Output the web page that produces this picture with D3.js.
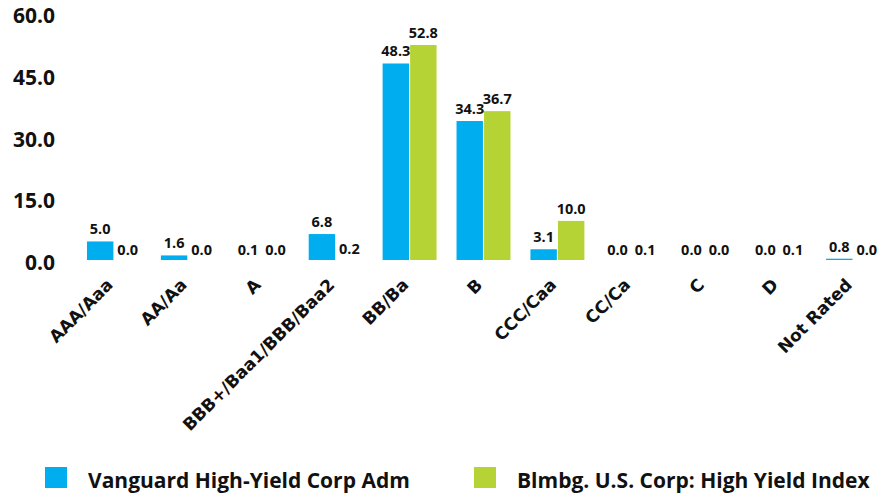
<!DOCTYPE html>
<html>
<head>
<meta charset="utf-8">
<script src="https://cdn.jsdelivr.net/npm/d3@7"></script>
<style>
  html, body { margin: 0; padding: 0; background: #fff; }
  svg { display: block; }
  text { font-family: "Open Sans", "DejaVu Sans", sans-serif; font-weight: 700; fill: #111; }
</style>
</head>
<body>
<svg id="chart" width="879" height="495"></svg>
<script>
const categories = ["AAA/Aaa", "AA/Aa", "A", "BBB+/Baa1/BBB/Baa2", "BB/Ba", "B", "CCC/Caa", "CC/Ca", "C", "D", "Not Rated"];
const seriesNames = ["Vanguard High-Yield Corp Adm", "Blmbg. U.S. Corp: High Yield Index"];
const fundValues  = [5.0, 1.6, 0.1, 6.8, 48.3, 34.3, 3.1, 0.0, 0.0, 0.0, 0.8];
const indexValues = [0.0, 0.0, 0.0, 0.2, 52.8, 36.7, 10.0, 0.1, 0.0, 0.1, 0.0];
const yTicks = [0, 15, 30, 45, 60];
const colors = ["#00AEEF", "#B5D334"];

const svg = d3.select("#chart");

const x0 = d3.scaleBand().domain(categories).range([77, 890]).paddingInner(0.27).paddingOuter(0.135);
const x1 = d3.scaleBand().domain(seriesNames).range([0, x0.bandwidth()]).paddingInner(0.04);
const y = d3.scaleLinear().domain([0, 60]).range([262, 15.4]);

const data = categories.map((c, i) => ({ cat: c, vals: [fundValues[i], indexValues[i]] }));

const groups = svg.append("g").selectAll("g").data(data).join("g")
  .attr("transform", d => `translate(${x0(d.cat)},0)`);

groups.selectAll("rect").data(d => d.vals.map((v, j) => ({ s: seriesNames[j], v, j }))).join("rect")
  .attr("x", d => x1(d.s))
  .attr("width", x1.bandwidth())
  .attr("y", d => y(d.v))
  .attr("height", d => y(0) - y(d.v))
  .attr("fill", d => colors[d.j]);

groups.selectAll("text.val").data(d => d.vals.map((v, j) => ({ s: seriesNames[j], v, j }))).join("text")
  .attr("class", "val")
  .attr("x", d => x1(d.s) + x1.bandwidth() / 2)
  .attr("y", d => y(d.v) - 7)
  .attr("text-anchor", "middle")
  .attr("font-size", 14.5)
  .text(d => d3.format(".1f")(d.v));

// Y axis (labels only)
const yAxis = d3.axisLeft(y).tickValues(yTicks).tickFormat(d3.format(".1f")).tickSize(0).tickPadding(0);
const gy = svg.append("g").attr("transform", "translate(55,0)").call(yAxis);
gy.select(".domain").remove();
gy.selectAll("text").attr("font-size", 21).attr("dy", "0.36em")
  .style("font-family", "'Open Sans', 'DejaVu Sans', sans-serif").style("font-weight", 700).attr("fill", "#111");

// X axis (white baseline band + rotated labels)
const xAxis = d3.axisBottom(x0).tickSize(0).tickPadding(0);
const gx = svg.append("g").attr("transform", "translate(0,262)").call(xAxis);
gx.select(".domain").attr("stroke", "#fff").attr("stroke-width", 5);
gx.selectAll("text")
  .attr("font-size", 17)
  .style("font-family", "'DejaVu Sans', sans-serif").style("font-weight", 700).attr("fill", "#111")
  .attr("text-anchor", "end")
  .attr("dy", "0")
  .attr("transform", "translate(0,24) rotate(-45)");

// Legend
const legendX = [45, 474];
const lg = svg.append("g").selectAll("g").data(seriesNames).join("g")
  .attr("transform", (d, i) => `translate(${legendX[i]},467)`);
lg.append("rect").attr("width", 22).attr("height", 21).attr("fill", (d, i) => colors[i]);
lg.append("text").attr("x", 43).attr("y", 21).attr("font-size", 21).text(d => d);
</script>
</body>
</html>
